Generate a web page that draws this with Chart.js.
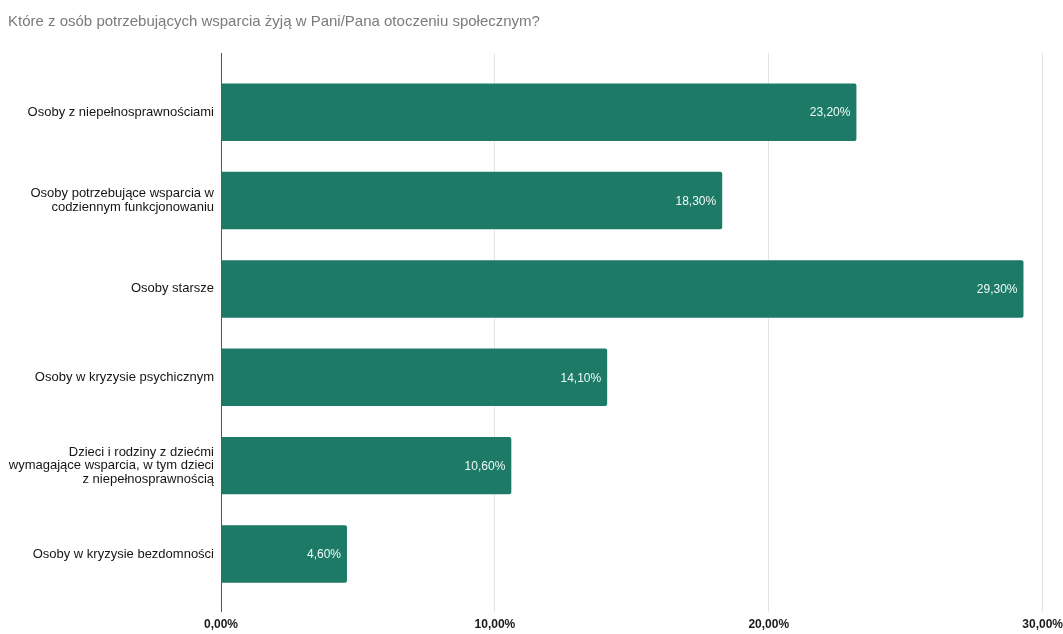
<!DOCTYPE html>
<html>
<head>
<meta charset="utf-8">
<script src="https://cdn.jsdelivr.net/npm/chart.js@4"></script>
<style>
  html, body { margin: 0; padding: 0; background: #fff; overflow: hidden; }
  #wrap { width: 1070px; height: 634px; }
</style>
</head>
<body>
<div id="wrap"><canvas id="myChart"></canvas></div>
<script>
// data
const titleText = "Które z osób potrzebujących wsparcia żyją w Pani/Pana otoczeniu społecznym?";
const categories = [
   "Osoby z niepełnosprawnościami",
   ["Osoby potrzebujące wsparcia w", "codziennym funkcjonowaniu"],
   "Osoby starsze",
   "Osoby w kryzysie psychicznym",
   ["Dzieci i rodziny z dziećmi", "wymagające wsparcia, w tym dzieci", "z niepełnosprawnością"],
   "Osoby w kryzysie bezdomności"
];
const values = [23.2, 18.3, 29.3, 14.1, 10.6, 4.6];
const tickValues = [0, 10, 20, 30];

const fmt = (v) => v.toFixed(2).replace(".", ",") + "%";
const gridColor = (ctx) => (ctx.tick && ctx.tick.value === 0) ? "#555555" : "#e4e4e4";

// white value labels at the end of each bar
const valueLabels = {
   id: "valueLabels",
   afterDatasetsDraw(chart) {
      const c = chart.ctx;
      const meta = chart.getDatasetMeta(0);
      c.save();
      c.font = "12px 'Liberation Sans', Arial, sans-serif";
      c.fillStyle = "#f2fbf7";
      c.textAlign = "right";
      c.textBaseline = "middle";
      meta.data.forEach((bar, i) => {
         c.fillText(fmt(values[i]), bar.x - 6, bar.y + 1);
      });
      c.restore();
   }
};

new Chart(document.getElementById("myChart"), {
   type: "bar",
   data: {
      labels: categories,
      datasets: [{
         data: values,
         backgroundColor: "#1c7a66",
         borderRadius: 2,
         borderSkipped: "start",
         barPercentage: 0.65,
         categoryPercentage: 1
      }]
   },
   options: {
      indexAxis: "y",
      responsive: true,
      maintainAspectRatio: false,
      animation: false,
      layout: { padding: { left: 8, right: 0, top: 0, bottom: -3 } },
      plugins: {
         legend: { display: false },
         tooltip: { enabled: false },
         title: {
            display: true,
            text: titleText,
            align: "start",
            color: "#7a7c78",
            font: { family: "'Liberation Sans', Arial, sans-serif", size: 15, weight: "normal" },
            padding: { top: 13, bottom: 22 }
         }
      },
      scales: {
         x: {
            min: 0, max: 30,
            afterBuildTicks: (s) => { s.ticks = tickValues.map((v) => ({ value: v })); },
            grid: { color: gridColor, tickColor: gridColor, tickLength: 14 },
            border: { display: false },
            ticks: {
               callback: (v) => fmt(v),
               color: "#1a1a1a",
               padding: 7,
               font: { family: "'Liberation Sans', Arial, sans-serif", size: 12, weight: "bold", lineHeight: 0.9 }
            }
         },
         xTop: {
            position: "top",
            min: 0, max: 30,
            afterBuildTicks: (s) => { s.ticks = tickValues.map((v) => ({ value: v })); },
            grid: { color: gridColor, tickColor: gridColor, tickLength: 15, drawOnChartArea: false },
            border: { display: false },
            ticks: { display: false }
         },
         y: {
            afterFit: (s) => { s.width = 213; },
            grid: { display: false, drawTicks: false },
            border: { display: false },
            ticks: {
               color: "#151515",
               padding: 7,
               font: { family: "'Liberation Sans', Arial, sans-serif", size: 13, lineHeight: 1.05 }
            }
         }
      }
   },
   plugins: [valueLabels]
});
</script>
</body>
</html>
